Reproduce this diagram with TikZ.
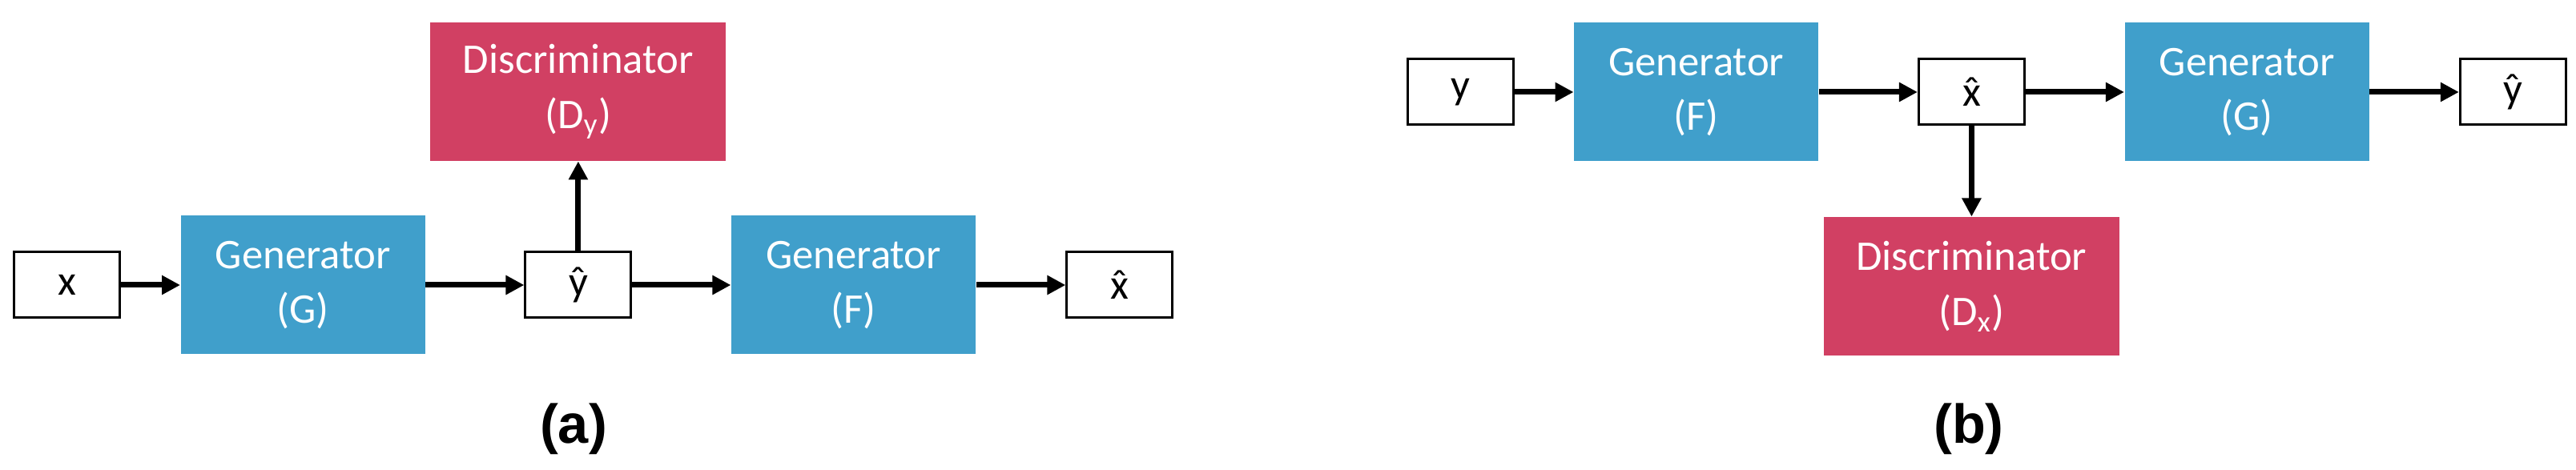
\documentclass[tikz,border=0pt]{standalone}
\usepackage{fontspec}
\setmainfont{Carlito}
\newfontfamily\labelfont{Liberation Sans}
\usepackage{tikz}
\usetikzlibrary{arrows.meta,positioning}
\definecolor{genBlue}{RGB}{64,159,203}
\definecolor{discRed}{RGB}{209,64,99}
\newcommand{\hatted}[1]{\accent"02C6 #1}

\begin{document}
\begin{tikzpicture}[
	node distance=1.23cm and 1.23cm,
	font=\fontsize{15}{19.6}\selectfont
	]
\tikzset{
	base/.style = { rectangle, text centered, align=center, inner sep=0pt },
	signal/.style = { base, draw=black, line width=0.03cm, minimum width=1.32cm, minimum height=0.82cm },
	generator/.style = { base, fill=genBlue, text=white, minimum width=3.05cm, minimum height=1.73cm },
	discriminator/.style = { base, fill=discRed, text=white, minimum width=3.69cm, minimum height=1.73cm },
	arrow/.style = { line width=0.07cm, -{Triangle[length=0.23cm, width=0.23cm]} },
	caption/.style = { font=\labelfont\bfseries\fontsize{19.5}{23}\selectfont }
}
	\useasboundingbox (0,0) rectangle (32.16,5.86);

	% panel (a)
	\node (xIn) [signal] at (0.835,2.30) {x};
	\node (genGa) [generator, right=0.74cm of xIn] {Generator\\(G)};
	\node (yHatA) [signal, right=of genGa] {\hatted{y}};
	\node (genFa) [generator, right=of yHatA] {Generator\\(F)};
	\node (xHatA) [signal, right=1.115cm of genFa] {\hatted{x}};
	\node (discY) [discriminator, above=1.12cm of yHatA] {Discriminator\\(D\textsubscript{y})};
	\node (capA) [caption] at (7.16,0.50) {(a)};

	% panel (b)
	\node (yIn) [signal] at (18.23,4.71) {y};
	\node (genFb) [generator, right=0.74cm of yIn] {Generator\\(F)};
	\node (xHatB) [signal, right=of genFb] {\hatted{x}};
	\node (genGb) [generator, right=of xHatB] {Generator\\(G)};
	\node (yHatB) [signal, right=1.115cm of genGb] {\hatted{y}};
	\node (discX) [discriminator, below=1.13cm of xHatB] {Discriminator\\(D\textsubscript{x})};
	\node (capB) [caption] at (24.58,0.50) {(b)};

	% paths (a)
	\draw [arrow] (xIn) -- (genGa);
	\draw [arrow] (genGa) -- (yHatA);
	\draw [arrow] (yHatA) -- (genFa);
	\draw [arrow] (genFa) -- (xHatA);
	\draw [arrow] (yHatA) -- (discY);

	% paths (b)
	\draw [arrow] (yIn) -- (genFb);
	\draw [arrow] (genFb) -- (xHatB);
	\draw [arrow] (xHatB) -- (genGb);
	\draw [arrow] (genGb) -- (yHatB);
	\draw [arrow] (xHatB) -- (discX);

\end{tikzpicture}
\end{document}
